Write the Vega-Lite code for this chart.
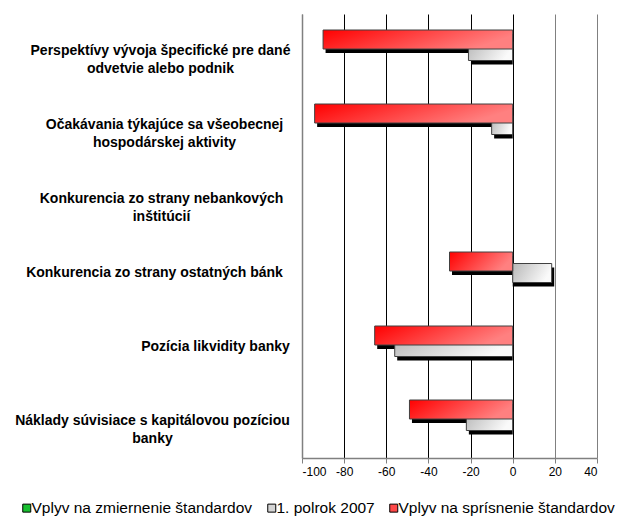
{
  "$schema": "https://vega.github.io/schema/vega-lite/v6.json",
  "autosize": {"type": "none"},
  "width": 295,
  "height": 444,
  "padding": {"left": 302, "top": 14, "right": 29, "bottom": 58},
  "background": "white",
  "config": {
    "view": {"stroke": null},
    "font": "Liberation Sans"
  },
  "data": {
    "values": [
      {"category": "Perspektívy vývoja špecifické pre dané|odvetvie alebo podnik", "series": "Vplyv na zmiernenie štandardov", "value": 0},
      {"category": "Perspektívy vývoja špecifické pre dané|odvetvie alebo podnik", "series": "1. polrok 2007", "value": -21},
      {"category": "Perspektívy vývoja špecifické pre dané|odvetvie alebo podnik", "series": "Vplyv na sprísnenie štandardov", "value": -90},
      {"category": "Očakávania týkajúce sa všeobecnej|hospodárskej aktivity", "series": "Vplyv na zmiernenie štandardov", "value": 0},
      {"category": "Očakávania týkajúce sa všeobecnej|hospodárskej aktivity", "series": "1. polrok 2007", "value": -10},
      {"category": "Očakávania týkajúce sa všeobecnej|hospodárskej aktivity", "series": "Vplyv na sprísnenie štandardov", "value": -94},
      {"category": "Konkurencia zo strany nebankových|inštitúcií", "series": "Vplyv na zmiernenie štandardov", "value": 0},
      {"category": "Konkurencia zo strany nebankových|inštitúcií", "series": "1. polrok 2007", "value": 0},
      {"category": "Konkurencia zo strany nebankových|inštitúcií", "series": "Vplyv na sprísnenie štandardov", "value": 0},
      {"category": "Konkurencia zo strany ostatných bánk", "series": "Vplyv na zmiernenie štandardov", "value": 0},
      {"category": "Konkurencia zo strany ostatných bánk", "series": "1. polrok 2007", "value": 18.5},
      {"category": "Konkurencia zo strany ostatných bánk", "series": "Vplyv na sprísnenie štandardov", "value": -30},
      {"category": "Pozícia likvidity banky", "series": "Vplyv na zmiernenie štandardov", "value": 0},
      {"category": "Pozícia likvidity banky", "series": "1. polrok 2007", "value": -56},
      {"category": "Pozícia likvidity banky", "series": "Vplyv na sprísnenie štandardov", "value": -65.5},
      {"category": "Náklady súvisiace s kapitálovou pozíciou|banky", "series": "Vplyv na zmiernenie štandardov", "value": 0},
      {"category": "Náklady súvisiace s kapitálovou pozíciou|banky", "series": "1. polrok 2007", "value": -22},
      {"category": "Náklady súvisiace s kapitálovou pozíciou|banky", "series": "Vplyv na sprísnenie štandardov", "value": -49}
    ]
  },
  "encoding": {
    "y": {
      "field": "category",
      "type": "nominal",
      "sort": null,
      "scale": {
        "domain": [
          "Perspektívy vývoja špecifické pre dané|odvetvie alebo podnik",
          "Očakávania týkajúce sa všeobecnej|hospodárskej aktivity",
          "Konkurencia zo strany nebankových|inštitúcií",
          "Konkurencia zo strany ostatných bánk",
          "Pozícia likvidity banky",
          "Náklady súvisiace s kapitálovou pozíciou|banky"
        ],
        "paddingInner": 0, "paddingOuter": 0
      },
      "axis": {
        "title": null,
        "labelExpr": "split(datum.label, '|')",
        "labelFont": "Liberation Sans",
        "labelFontSize": 14,
        "labelFontWeight": "bold",
        "labelColor": "black",
        "labelAlign": "center",
        "labelPadding": {
          "condition": [
            {"test": "indexof(datum.value, 'Perspekt') == 0", "value": 142},
            {"test": "indexof(datum.value, 'Oča') == 0", "value": 138},
            {"test": "indexof(datum.value, 'Konkurencia zo strany neb') == 0", "value": 141},
            {"test": "indexof(datum.value, 'Konkurencia zo strany ost') == 0", "value": 148},
            {"test": "indexof(datum.value, 'Pozícia') == 0", "value": 87}
          ],
          "value": 150
        },
        "labelLimit": 400,
        "labelLineHeight": 18,
        "ticks": false,
        "grid": false,
        "domainColor": "#808080",
        "domainWidth": 1.5
      }
    },
    "x": {
      "field": "value",
      "type": "quantitative",
      "stack": null,
      "scale": {"domain": [-100, 40], "nice": false, "zero": false},
      "axis": {
        "title": null,
        "values": [-100, -80, -60, -40, -20, 0, 20, 40],
        "labelExpr": "toString(datum.value)",
        "grid": true,
        "gridColor": {"condition": {"test": "datum.value > 0 || datum.value == -100", "value": "#808080"}, "value": "black"},
        "gridWidth": 1,
        "domainColor": "#808080",
        "domainWidth": 1.5,
        "tickColor": "#808080",
        "tickSize": 5,
        "labelFont": "Liberation Sans",
        "labelFontSize": 12,
        "labelColor": "black",
        "labelPadding": 3
      }
    }
  },
  "layer": [
    {
      "transform": [{"filter": "datum.series == '1. polrok 2007' && datum.value != 0"}],
      "mark": {"type": "bar", "color": "black", "height": 19, "xOffset": 2.5, "yOffset": 4}
    },
    {
      "transform": [{"filter": "datum.series == 'Vplyv na sprísnenie štandardov' && datum.value != 0"}],
      "mark": {"type": "bar", "color": "black", "height": 19, "xOffset": 2.5, "yOffset": -7.5}
    },
    {
      "transform": [{"filter": "datum.series == '1. polrok 2007' && datum.value != 0"}],
      "mark": {
        "type": "bar",
        "height": 19,
        "stroke": "#404040",
        "strokeWidth": 1,
        "fill": {"gradient": "linear", "x1": 0, "y1": 0, "x2": 1, "y2": 0.3,
          "stops": [{"offset": 0, "color": "#b8b8b8"}, {"offset": 1, "color": "#fafafa"}]}
      }
    },
    {
      "transform": [{"filter": "datum.series == 'Vplyv na sprísnenie štandardov' && datum.value != 0"}],
      "mark": {
        "type": "bar",
        "height": 19,
        "yOffset": -11.5,
        "stroke": "#404040",
        "strokeWidth": 1,
        "fill": {"gradient": "linear", "x1": 0, "y1": 0, "x2": 1, "y2": 0.3,
          "stops": [{"offset": 0, "color": "#ff0000"}, {"offset": 1, "color": "#ff8080"}]}
      }
    },
    {
      "mark": {"type": "bar", "opacity": 0, "height": 1},
      "encoding": {
        "color": {
          "field": "series",
          "type": "nominal",
          "scale": {
            "domain": ["Vplyv na zmiernenie štandardov", "1. polrok 2007", "Vplyv na sprísnenie štandardov"],
            "range": ["#18c030", "#d4d4d4", "#ff4848"]
          },
          "legend": {
            "title": null,
            "orient": "none",
            "direction": "horizontal",
            "legendX": -283,
            "legendY": 486,
            "symbolType": "square",
            "symbolSize": 64,
            "symbolOpacity": 1,
            "symbolStrokeColor": "black",
            "symbolStrokeWidth": 1,
            "labelFont": "Liberation Sans",
            "labelFontSize": 15.5,
            "labelColor": "black",
            "labelOffset": -3,
            "labelLimit": 400,
            "columnPadding": 11
          }
        }
      }
    }
  ]
}
